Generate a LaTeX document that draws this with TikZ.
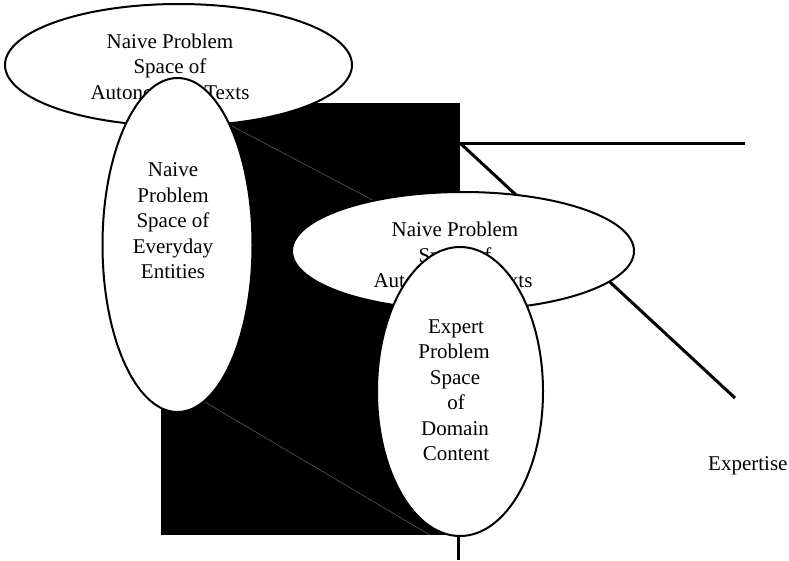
\documentclass[tikz,border=0pt]{standalone}
\usepackage{fontspec}
\setmainfont{Liberation Serif}
\usetikzlibrary{shapes.geometric}
\begin{document}
\begin{tikzpicture}[x=1pt,y=-1pt,
  ell/.style={ellipse,draw=black,fill=white,line width=2pt,inner sep=0pt},
  lbl/.style={anchor=base,inner sep=0pt,font=\fontsize{21}{25.6}\selectfont},
  thick line/.style={line width=3pt},
  faint/.style={draw=black!65,line width=0.6pt}]
\useasboundingbox[fill=white] (0,0) rectangle (789,560);
% black block
\fill[black] (161,103) rectangle (460,535);
% faint perspective lines
\coordinate (f1a) at (232,126);
\coordinate (f1b) at (420,225);
\coordinate (f2a) at (205,402);
\coordinate (f2b) at (430,535);
\draw[faint] (f1a) -- (f1b);
\draw[faint] (f2a) -- (f2b);
% expertise axes
\coordinate (apex) at (460,143);
\coordinate (hend) at (745,143);
\coordinate (dend) at (735,398);
\coordinate (vtop) at (458,535);
\coordinate (vbot) at (458,560);
\draw[thick line] (apex) -- (hend);
\draw[thick line] (apex) -- (dend);
% top ellipse
\node[ell,minimum width=347pt,minimum height=122pt] (e1) at (178.5,65) {};
\node[lbl] (e1a) at (170,48) {Naive Problem};
\node[lbl] (e1b) at (170,73.5) {Space of};
\node[lbl] (e1c) at (170,99) {Autonomous Texts};
% left ellipse
\node[ell,minimum width=150pt,minimum height=334pt] (e2) at (177.5,245) {};
\node[lbl] (e2a) at (173,176) {Naive};
\node[lbl] (e2b) at (173,202) {Problem};
\node[lbl] (e2c) at (173,227) {Space of};
\node[lbl] (e2d) at (173,253) {Everyday};
\node[lbl] (e2e) at (173,278) {Entities};
% middle ellipse
\node[ell,minimum width=342pt,minimum height=118pt] (e3) at (463,251) {};
\node[lbl] (e3a) at (455,236) {Naive Problem};
\node[lbl] (e3b) at (455,262) {Space of};
\node[lbl] (e3c) at (453,287) {Autonomous Texts};
% expert ellipse
\node[ell,minimum width=166pt,minimum height=289pt] (e4) at (460,391.5) {};
\node[lbl] (e4a) at (456,333) {Expert};
\node[lbl] (e4b) at (454,358) {Problem};
\node[lbl] (e4c) at (455,384) {Space};
\node[lbl] (e4d) at (456,409) {of};
\node[lbl] (e4e) at (455,435) {Domain};
\node[lbl] (e4f) at (456,460) {Content};
\draw[thick line] (vtop) -- (vbot);
% label
\node[lbl,anchor=base west] (exp) at (708,470) {Expertise};
\end{tikzpicture}
\end{document}
